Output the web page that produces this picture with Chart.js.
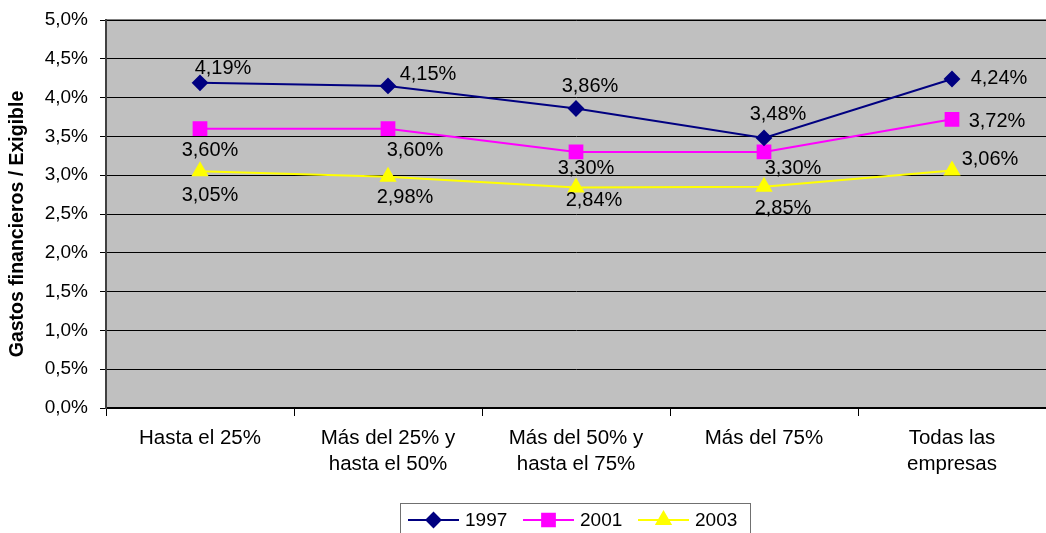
<!DOCTYPE html>
<html lang="es">
<head>
  <meta charset="UTF-8" />
  <title>Gastos financieros / Exigible</title>
  <script src="https://cdn.jsdelivr.net/npm/chart.js"></script>
  <style>
    html, body { margin: 0; padding: 0; background: #ffffff; }
    .chart-container { position: relative; width: 1046px; height: 533px; }
  </style>
</head>
<body>

<div class="chart-container">
  <canvas id="gastosChart" width="1046" height="533"></canvas>
</div>

<script>
  // categories and series
  const categories = [
    'Hasta el 25%',
    ['Más del 25% y', 'hasta el 50%'],
    ['Más del 50% y', 'hasta el 75%'],
    'Más del 75%',
    ['Todas las', 'empresas']
  ];
  const years = ['1997', '2001', '2003'];
  const serie1997 = [4.19, 4.15, 3.86, 3.48, 4.24];
  const serie2001 = [3.60, 3.60, 3.30, 3.30, 3.72];
  const serie2003 = [3.05, 2.98, 2.84, 2.85, 3.06];
  const yTicks = [0, 0.5, 1, 1.5, 2, 2.5, 3, 3.5, 4, 4.5, 5];
  const yTitle = 'Gastos financieros / Exigible';

  // where each value label sits relative to its marker (dx, dy)
  const labelOffsets = [
    [[23, -14], [40, -11], [14, -22], [14, -23], [47, 0]],
    [[10, 22], [27, 22], [10, 17], [29, 17], [45, 2]],
    [[10, 24], [17, 21], [18, 13], [19, 22], [38, -11]]
  ];

  const FONT = '"Liberation Sans", Arial, Helvetica, sans-serif';
  const fmt = (v, d) => v.toFixed(d).replace('.', ',') + '%';

  // grey plot area with a darker top edge
  const plotBackground = {
    id: 'plotBackground',
    beforeDraw(chart) {
      const { ctx, chartArea: a } = chart;
      ctx.save();
      ctx.fillStyle = '#c0c0c0';
      ctx.fillRect(a.left, a.top, a.right - a.left, a.bottom - a.top);
      ctx.fillStyle = '#808080';
      ctx.fillRect(a.left, a.top - 1, a.right - a.left, 2);
      ctx.restore();
    }
  };

  // rotated y-axis title, sitting a little below the plot's middle
  const axisTitle = {
    id: 'axisTitle',
    afterDraw(chart) {
      const { ctx } = chart;
      ctx.save();
      ctx.translate(18, 224);
      ctx.rotate(-Math.PI / 2);
      ctx.font = 'bold 19.5px ' + FONT;
      ctx.fillStyle = '#000';
      ctx.textAlign = 'center';
      ctx.textBaseline = 'middle';
      ctx.fillText(yTitle, 0, 0);
      ctx.restore();
    }
  };

  // value labels next to the markers
  const valueLabels = {
    id: 'valueLabels',
    afterDatasetsDraw(chart) {
      const { ctx } = chart;
      ctx.save();
      ctx.font = '20px ' + FONT;
      ctx.fillStyle = '#000';
      ctx.textAlign = 'center';
      ctx.textBaseline = 'middle';
      chart.data.datasets.forEach((ds, i) => {
        chart.getDatasetMeta(i).data.forEach((pt, j) => {
          const [dx, dy] = labelOffsets[i][j];
          ctx.fillText(fmt(ds.data[j], 2), pt.x + dx, pt.y + dy);
        });
      });
      ctx.restore();
    }
  };

  // legend box with line + marker samples
  const lineLegend = {
    id: 'lineLegend',
    afterDraw(chart) {
      const { ctx } = chart;
      const box = { x: 400.5, y: 503.5, w: 350, h: 40 };
      const cy = 520;
      ctx.save();
      ctx.fillStyle = '#fff';
      ctx.fillRect(box.x, box.y, box.w, box.h);
      ctx.strokeStyle = '#707070';
      ctx.lineWidth = 1;
      ctx.strokeRect(box.x, box.y, box.w, box.h);
      let x = 408;
      chart.data.datasets.forEach(ds => {
        ctx.strokeStyle = ds.borderColor;
        ctx.lineWidth = 2;
        ctx.beginPath();
        ctx.moveTo(x, cy);
        ctx.lineTo(x + 51, cy);
        ctx.stroke();
        ctx.fillStyle = ds.backgroundColor;
        Chart.helpers.drawPoint(ctx, {
          pointStyle: ds.pointStyle,
          radius: ds.pointRadius,
          borderWidth: 1
        }, x + 25.5, cy);
        ctx.fillStyle = '#000';
        ctx.font = '19px ' + FONT;
        ctx.textAlign = 'left';
        ctx.textBaseline = 'middle';
        ctx.fillText(ds.label, x + 57, cy + 1);
        x += 115;
      });
      ctx.restore();
    }
  };

  function series(label, data, color, style, radius) {
    return {
      label: label,
      data: data,
      borderColor: color,
      backgroundColor: color,
      pointBackgroundColor: color,
      pointBorderColor: color,
      pointStyle: style,
      pointRadius: radius,
      pointHoverRadius: radius,
      borderWidth: 2,
      tension: 0
    };
  }

  Chart.defaults.font.family = FONT;
  Chart.defaults.color = '#000';

  new Chart(document.getElementById('gastosChart'), {
    type: 'line',
    data: {
      labels: categories,
      datasets: [
        series(years[0], serie1997, '#000080', 'rectRot', 7),
        series(years[1], serie2001, '#ff00ff', 'rect', 9),
        series(years[2], serie2003, '#ffff00', 'triangle', 8)
      ]
    },
    options: {
      responsive: false,
      animation: false,
      layout: {
        autoPadding: false,
        padding: { top: 20, right: 0, bottom: 0, left: 0 }
      },
      plugins: {
        legend: { display: false },
        tooltip: { enabled: false }
      },
      scales: {
        x: {
          offset: true,
          afterFit(scale) {
            scale.height = 125;
            scale.paddingLeft = 0;
            scale.paddingRight = 0;
          },
          grid: {
            offset: true,
            drawOnChartArea: false,
            drawTicks: true,
            tickLength: 8,
            color: '#000',
            lineWidth: 1
          },
          border: { color: '#000', width: 2 },
          ticks: {
            font: { size: 20.5, lineHeight: 1.27 },
            padding: 9,
            maxRotation: 0,
            autoSkip: false
          }
        },
        y: {
          min: 0,
          max: 5,
          afterFit(scale) {
            scale.width = 106;
            scale.paddingTop = 0;
            scale.paddingBottom = 0;
          },
          afterBuildTicks(scale) { scale.ticks = yTicks.map(v => ({ value: v })); },
          grid: {
            color: '#000',
            lineWidth: 1,
            drawTicks: true,
            tickLength: 6
          },
          border: { color: '#404040', width: 2 },
          ticks: {
            font: { size: 19 },
            padding: 12,
            callback: v => fmt(v, 1)
          }
        }
      }
    },
    plugins: [plotBackground, valueLabels, axisTitle, lineLegend]
  });
</script>
</body>
</html>
